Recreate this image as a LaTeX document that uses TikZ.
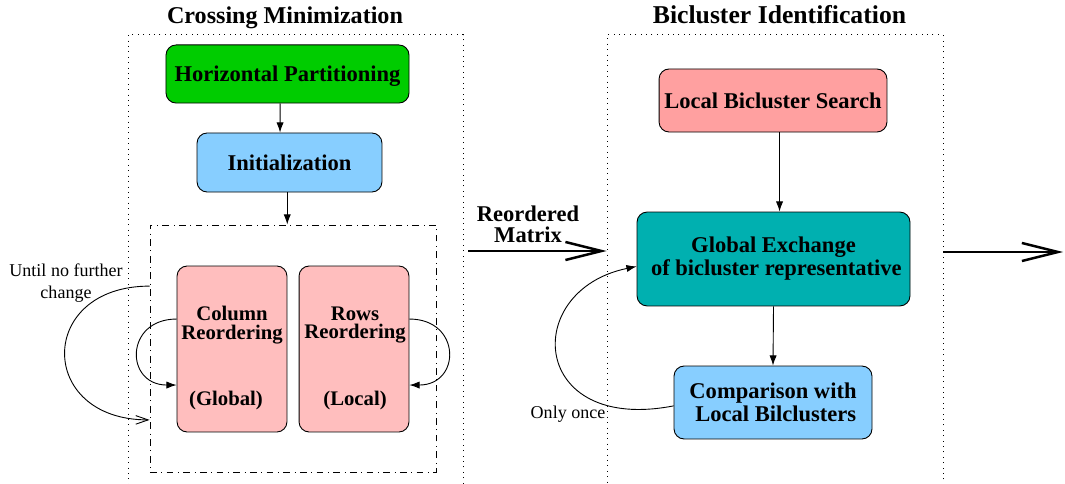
\documentclass[tikz,border=0pt]{standalone}
\usepackage{fontspec}
\setmainfont{Liberation Serif}
\usetikzlibrary{positioning}
\usetikzlibrary{arrows.meta}
\definecolor{hpgreen}{RGB}{0,204,0}
\definecolor{skyblue}{RGB}{135,206,255}
\definecolor{rosepink}{RGB}{255,190,190}
\definecolor{salmonred}{RGB}{255,160,160}
\definecolor{tealgreen}{RGB}{0,176,176}

\begin{document}
\begin{tikzpicture}[x=0.444pt,y=-0.444pt,
    stepbox/.style={draw, rounded corners=4.5pt, font=\bfseries, align=center, inner sep=0pt},
    framebox/.style={draw, dotted, inner sep=0pt},
    boxtext/.style={font=\fontsize{9.2}{8.4}\selectfont\bfseries, align=center},
    thinarrow/.style={-{Latex[length=4.5pt,width=3.2pt]}},
    bigarrow/.style={line width=1.1pt, -{Straight Barb[length=16pt,width=8pt,line width=1.1pt]}},
    smalltext/.style={font=\fontsize{8}{9.5}\selectfont, align=center}]
    \useasboundingbox (0,0) rectangle (1065,484);

    % the two dotted frames
    \node(cm) [framebox, minimum width=148.7pt, minimum height=206.5pt] at (295.5,267.5) {};
    \node(bi) [framebox, minimum width=149.2pt, minimum height=206.5pt] at (775,267.5) {};
    \node(cmtitle) [anchor=base, font=\fontsize{10.7}{12}\selectfont\bfseries] at (285,24) {Crossing Minimization};
    \node(bititle) [anchor=base, font=\fontsize{11.4}{13}\selectfont\bfseries] at (779.5,24) {Bicluster Identification};

    % crossing minimization
    \node(hp) [stepbox, fill=hpgreen, text depth=0pt, minimum width=107.9pt, minimum height=25.8pt] at (287.5,74) {Horizontal Partitioning};
    \node(init) [stepbox, fill=skyblue, minimum width=82.1pt, minimum height=26.2pt] at (289.5,162.5) {Initialization};
    \node(reorder) [draw, dash dot, inner sep=0pt, minimum width=127pt, minimum height=109.7pt] at (293,348.5) {};
    \node(col) [stepbox, fill=rosepink, minimum width=48.8pt, minimum height=73.7pt] at (232,349) {};
    \node(rows) [stepbox, fill=rosepink, minimum width=48.8pt, minimum height=73.7pt] at (354,349) {};
    \node(colT) [boxtext] at (232,325) {Column\\Reordering};
    \node(colG) [boxtext] at (226,401) {(Global)};
    \node(rowsT) [boxtext] at (355,325) {Rows\\Reordering};
    \node(rowsL) [boxtext] at (355,401) {(Local)};

    \draw[thinarrow] ([xshift=-3.3pt]hp.south) -- ([xshift=-4.2pt]init.north);
    \draw[thinarrow] ([xshift=-1pt]init.south) -- ([xshift=-1pt]init.south |- reorder.north);
    \draw[thinarrow] ([yshift=13.3pt]col.west) .. controls +(-52,0) and +(-52,0) .. ([yshift=-16pt]col.west);
    \draw[thinarrow] ([yshift=13.3pt]rows.east) .. controls +(52,0) and +(52,0) .. ([yshift=-16pt]rows.east);
    \draw[-{Straight Barb[length=5.5pt,width=3.8pt]}] ([yshift=27.7pt]reorder.west) .. controls +(-113,0) and +(-113,0) .. ([yshift=-31.7pt]reorder.west);
    \node(until) [smalltext] at (66,283) {Until no further\\change};

    % reordered matrix
    \coordinate(rm) at (468,251);
    \draw[bigarrow] (rm) -- (rm -| bi.west);
    \node(rmlabel) [align=center, font=\fontsize{10}{9.5}\selectfont\bfseries] at (528,224) {Reordered\\Matrix};

    % bicluster identification
    \node(lbs) [stepbox, fill=salmonred, minimum width=101.2pt, minimum height=28pt] at (773,100.5) {Local Bicluster Search};
    \node(ge) [stepbox, fill=tealgreen, minimum width=121.2pt, minimum height=41.7pt, font=\fontsize{10}{9}\selectfont\bfseries] at (773.5,259) {Global Exchange\\\ of bicluster representative};
    \node(comp) [stepbox, fill=skyblue, minimum width=87.9pt, minimum height=32.4pt, font=\fontsize{10}{9}\selectfont\bfseries] at (773,402.5) {Comparison with\\\ Local Bilclusters};

    \draw[thinarrow] ([xshift=2.9pt]lbs.south) -- ([xshift=2.9pt]lbs.south |- ge.north);
    \draw[thinarrow] (ge.south) -- (comp.north);
    \draw[thinarrow] ([yshift=-1.5pt]comp.west) .. controls +(-144,28) and +(-116,24) .. ([yshift=-3.3pt]ge.west);
    \node(once) [smalltext] at (568,414) {Only once};

    \coordinate(out) at (1063,252);
    \draw[bigarrow] (bi.east |- out) -- (out);
\end{tikzpicture}
\end{document}
